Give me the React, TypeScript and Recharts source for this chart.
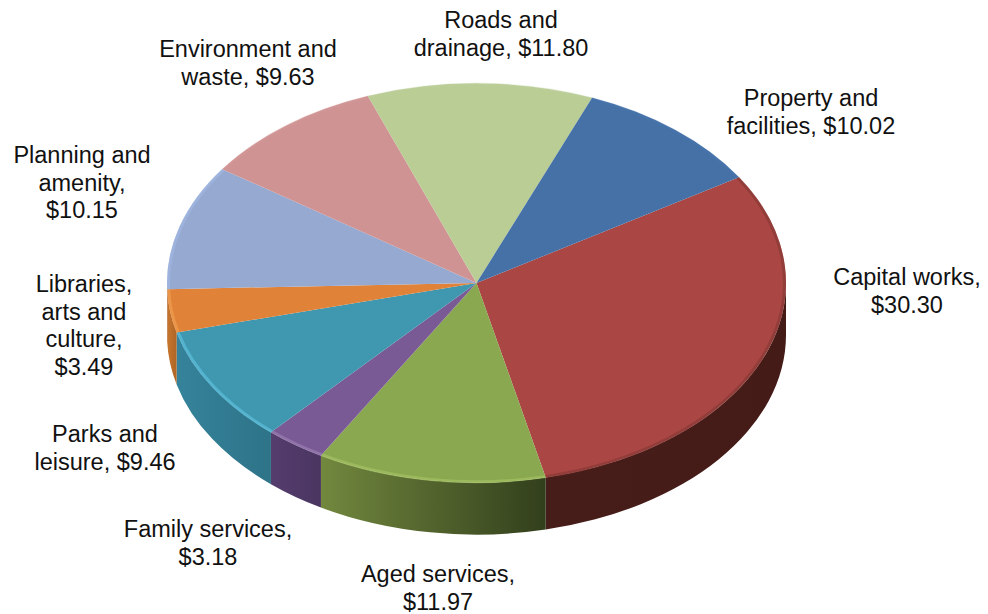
import { PieChart, Pie, Cell } from 'recharts';

const categories = [
  ['Capital works,'],
  ['Aged services,'],
  ['Family services,'],
  ['Parks and', 'leisure,'],
  ['Libraries,', 'arts and', 'culture,'],
  ['Planning and', 'amenity,'],
  ['Environment and', 'waste,'],
  ['Roads and', 'drainage,'],
  ['Property and', 'facilities,'],
];
const values = [30.3, 11.97, 3.18, 9.46, 3.49, 10.15, 9.63, 11.8, 10.02];
const valueOnOwnLine = [true, true, true, false, true, true, false, false, false];

const topColors = ['#aa4643', '#8aa84f', '#7a5a94', '#3f97b0', '#e08238', '#95a9d1', '#d09393', '#b9cd95', '#4571a7'];
const rimColors = ['#7a3330', '#a9c468', '#9f84b8', '#5cbcd8', '#f09c50', '#a4bbe4', '#d49a9a', '#bfd29e', '#4a78b0'];
const rimOpacity = [0.5, 0.6, 0.6, 0.75, 0.7, 0.6, 0.3, 0.3, 0.3];
const wallLeft = ['#471d19', '#72883e', '#553d6e', '#35839b', '#c9762d', '#8296b8', '#b07a78', '#9aab7a', '#3a5f8c'];
const wallRight = ['#441b17', '#323f1c', '#4a3560', '#2e7388', '#ad6526', '#8296b8', '#b07a78', '#9aab7a', '#3a5f8c'];

const labelSpots = [
  { x: 907, y: 285 },
  { x: 438, y: 582 },
  { x: 208, y: 537 },
  { x: 105, y: 442 },
  { x: 84, y: 292 },
  { x: 82, y: 163 },
  { x: 248, y: 57 },
  { x: 501, y: 28 },
  { x: 811, y: 106 },
];

const tableData = categories.map((c, i) => ({ name: c.join(' '), value: values[i] }));

const CX = 476.5;
const CY = 283;
const RX = 309.5;
const SQUASH = 0.645;
const DEPTH = 52;
const LINE_H = 27.5;

const rad = (deg: number) => (deg * Math.PI) / 180;
const px = (r: number, deg: number) => CX + r * Math.cos(rad(deg));
const py = (r: number, deg: number) => CY - r * SQUASH * Math.sin(rad(deg));

function Slice(props: any) {
  const { startAngle, endAngle, outerRadius, index } = props;
  const r = outerRadius;
  const ry = r * SQUASH;
  const s = startAngle;
  const e = endAngle;
  const large = Math.abs(s - e) > 180 ? 1 : 0;
  const top = `M${CX},${CY} L${px(r, s)},${py(r, s)} A${r},${ry} 0 ${large} 1 ${px(r, e)},${py(r, e)} Z`;
  const rimR = r - 1.5;
  const rim = `M${px(rimR, s)},${py(rimR, s)} A${rimR},${rimR * SQUASH} 0 ${large} 1 ${px(rimR, e)},${py(rimR, e)}`;

  // side wall only shows on the front half of the ellipse
  const ws = Math.min(s, 0);
  const we = Math.max(e, -180);
  let wall = null;
  if (ws > we) {
    const d =
      `M${px(r, ws)},${py(r, ws)} A${r},${ry} 0 0 1 ${px(r, we)},${py(r, we)} ` +
      `L${px(r, we)},${py(r, we) + DEPTH} A${r},${ry} 0 0 0 ${px(r, ws)},${py(r, ws) + DEPTH} Z`;
    wall = <path d={d} fill={`url(#wall${index})`} />;
  }

  return (
    <g>
      <linearGradient id={`wall${index}`} x1="0" y1="0" x2="1" y2="0">
        <stop offset="0" stopColor={wallLeft[index]} />
        <stop offset="1" stopColor={wallRight[index]} />
      </linearGradient>
      {wall}
      <path d={top} fill={topColors[index]} />
      <path d={rim} fill="none" stroke={rimColors[index]} strokeWidth={3} strokeOpacity={rimOpacity[index]} />
    </g>
  );
}

function SliceLabel(props: any) {
  const { index } = props;
  const spot = labelSpots[index];
  const amount = `$${values[index].toFixed(2)}`;
  const lines = [...categories[index]];
  if (valueOnOwnLine[index]) lines.push(amount);
  else lines[lines.length - 1] += ` ${amount}`;
  return (
    <text
      x={spot.x}
      y={spot.y}
      textAnchor="middle"
      fontFamily="'Liberation Sans', Arial, sans-serif"
      fontSize={23.5}
      fill="#111111"
    >
      {lines.map((line, i) => (
        <tspan key={i} x={spot.x} y={spot.y + i * LINE_H}>
          {line}
        </tspan>
      ))}
    </text>
  );
}

export default function App() {
  return (
    <div style={{ position: 'absolute', left: 0, top: 0, width: 988, height: 614, background: '#fff' }}>
      <PieChart width={988} height={614} margin={{ top: 0, right: 0, bottom: 0, left: 0 }}>
        <Pie
          data={tableData}
          dataKey="value"
          nameKey="name"
          cx={CX}
          cy={CY}
          innerRadius={0}
          outerRadius={RX}
          startAngle={32}
          endAngle={-328}
          paddingAngle={0}
          stroke="none"
          shape={Slice}
          label={SliceLabel}
          labelLine={false}
          isAnimationActive={false}
        >
          {tableData.map((d, i) => (
            <Cell key={d.name} fill={topColors[i]} />
          ))}
        </Pie>
      </PieChart>
    </div>
  );
}
